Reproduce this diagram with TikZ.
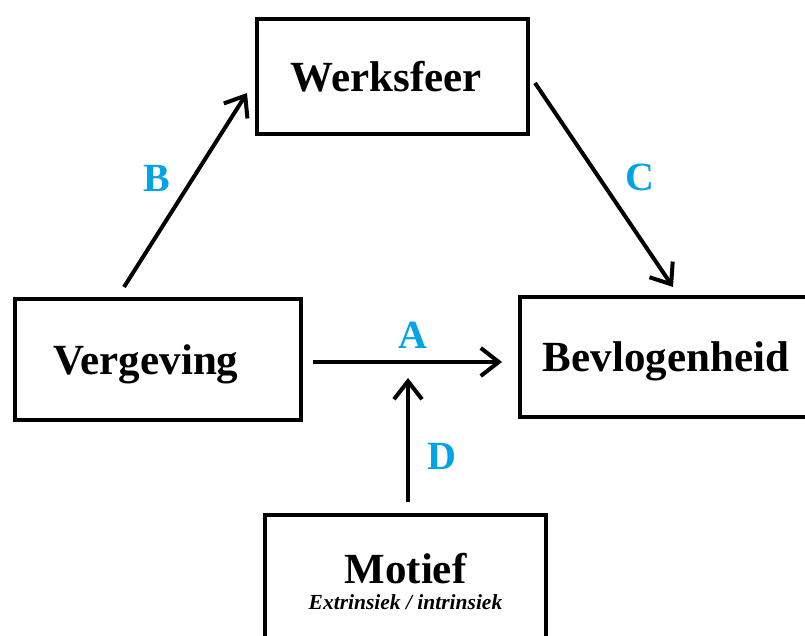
\documentclass[tikz,border=0pt]{standalone}
\usepackage{fontspec}
\setmainfont{Liberation Serif}
\usetikzlibrary{arrows.meta}
\definecolor{letterblue}{HTML}{00A2E8}
\begin{document}
\begin{tikzpicture}[x=1pt,y=-1pt,line width=4pt,
  main node/.style={rectangle,draw,font=\fontsize{43}{26}\selectfont\bfseries,inner sep=0pt,text depth=0pt},
  arr/.style={-{Straight Barb[length=18pt,width=28pt]}},
  letter/.style={text=letterblue,font=\fontsize{40}{44}\selectfont\bfseries,inner sep=0pt}]

  \useasboundingbox (0,0) rectangle (805,636);

  \node[main node,minimum width=271pt,minimum height=115pt] (werk) at (392.5,76.5) {Werksfeer\kern12pt};
  \node[main node,minimum width=286pt,minimum height=121pt] (verg) at (158,359.5) {Vergeving\kern24pt};
  \node[main node,minimum width=292pt,minimum height=120pt] (bev) at (666,357) {Bevlogenheid};
  \node[main node,minimum width=281pt,minimum height=132pt,align=center] (mot) at (405.5,581)
    {Motief\\{\fontsize{21.5}{24}\selectfont\itshape Extrinsiek / intrinsiek}};
  \coordinate (dtip) at (408,378);

  \path
   ([xshift=-34pt,yshift=10pt]verg.north) edge[arr] node[letter,xshift=-28.5pt,yshift=12pt]{B} ([xshift=-8pt,yshift=-16.5pt]werk.west)
   ([xshift=5pt,yshift=-6.5pt]werk.east) edge[arr] node[letter,xshift=36pt,yshift=8pt]{C} ([xshift=7pt,yshift=8pt]bev.north)
   ([xshift=10pt,yshift=-2.5pt]verg.east) edge[arr] node[letter,xshift=5.5pt,yshift=27pt]{A} ([xshift=-16pt,yshift=-5pt]bev.west)
   ([xshift=2.5pt,yshift=11pt]mot.north) edge[arr] node[letter,xshift=34pt,yshift=-16.5pt]{D} (dtip);
\end{tikzpicture}
\end{document}
